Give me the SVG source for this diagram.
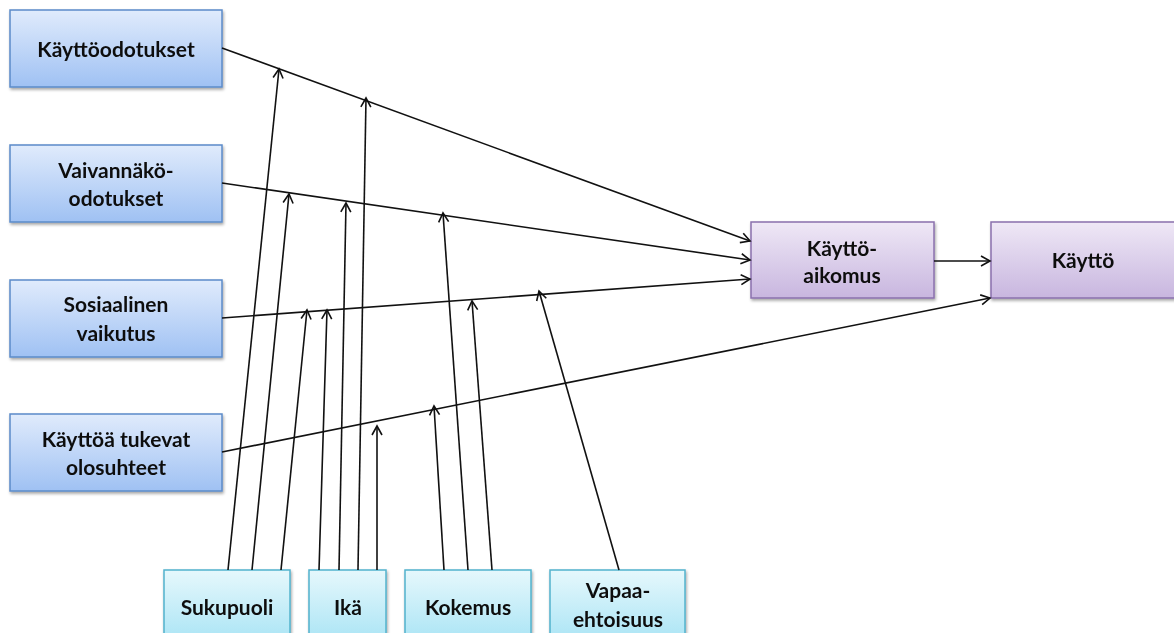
<svg xmlns="http://www.w3.org/2000/svg" width="1174" height="633" viewBox="0 0 1174 633">
  <style>
    .lbl { font-family: Lato, "Liberation Sans", sans-serif; font-weight: bold; font-size: 21px; fill: #111; text-anchor: middle; }
    .blue { fill: url(#gBlue); stroke: #5b8bc9; stroke-width: 1.5; }
    .purple { fill: url(#gPurple); stroke: #8a70ad; stroke-width: 1.5; }
    .cyan { fill: url(#gCyan); stroke: #52b3cd; stroke-width: 1.5; }
    .box { filter: url(#shadow); }
    .conn line { stroke: #111; stroke-width: 1.6; fill: none; marker-end: url(#arrow); }
  </style>
  <defs>
    <linearGradient id="gBlue" x1="0" y1="0" x2="0" y2="1">
      <stop offset="0" stop-color="#e0ebfc"/>
      <stop offset="1" stop-color="#9fc1f3"/>
    </linearGradient>
    <linearGradient id="gPurple" x1="0" y1="0" x2="0" y2="1">
      <stop offset="0" stop-color="#efe8f6"/>
      <stop offset="1" stop-color="#c8b6df"/>
    </linearGradient>
    <linearGradient id="gCyan" x1="0" y1="0" x2="0" y2="1">
      <stop offset="0" stop-color="#e6f8fc"/>
      <stop offset="1" stop-color="#a3e2f4"/>
    </linearGradient>
    <filter id="shadow" x="-10%" y="-10%" width="120%" height="130%">
      <feDropShadow dx="1" dy="2" stdDeviation="1.5" flood-color="#000" flood-opacity="0.35"/>
    </filter>
    <marker id="arrow" markerUnits="userSpaceOnUse" markerWidth="14" markerHeight="14" viewBox="-11 -7 14 14" refX="0" refY="0" orient="auto">
      <path d="M -9 -5 L 0 0 L -9 5" fill="none" stroke="#111" stroke-width="1.6"/>
    </marker>
  </defs>

  <!-- predictor boxes -->
  <g id="kayttoodotukset" class="box">
    <rect class="blue" x="10" y="10" width="212" height="77"/>
    <text class="lbl" x="116" y="57">Käyttöodotukset</text>
  </g>
  <g id="vaivannakoodotukset" class="box">
    <rect class="blue" x="10" y="145" width="212" height="77"/>
    <text class="lbl" x="116" y="178">Vaivannäkö-</text>
    <text class="lbl" x="116" y="206">odotukset</text>
  </g>
  <g id="sosiaalinen" class="box">
    <rect class="blue" x="10" y="280" width="212" height="77"/>
    <text class="lbl" x="116" y="312">Sosiaalinen</text>
    <text class="lbl" x="116" y="341">vaikutus</text>
  </g>
  <g id="olosuhteet" class="box">
    <rect class="blue" x="10" y="414" width="212" height="77"/>
    <text class="lbl" x="116" y="447">Käyttöä tukevat</text>
    <text class="lbl" x="116" y="475">olosuhteet</text>
  </g>

  <!-- outcome boxes -->
  <g id="aikomus" class="box">
    <rect class="purple" x="751" y="222" width="183" height="76"/>
    <text class="lbl" x="842" y="256">Käyttö-</text>
    <text class="lbl" x="842" y="283">aikomus</text>
  </g>
  <g id="kaytto" class="box">
    <rect class="purple" x="991" y="222" width="190" height="76"/>
    <text class="lbl" x="1083" y="268">Käyttö</text>
  </g>

  <!-- moderator boxes -->
  <g id="sukupuoli" class="box">
    <rect class="cyan" x="164" y="570" width="126" height="80"/>
    <text class="lbl" x="227" y="615">Sukupuoli</text>
  </g>
  <g id="ika" class="box">
    <rect class="cyan" x="309" y="570" width="77" height="80"/>
    <text class="lbl" x="348" y="615">Ikä</text>
  </g>
  <g id="kokemus" class="box">
    <rect class="cyan" x="405" y="570" width="126" height="80"/>
    <text class="lbl" x="468" y="615">Kokemus</text>
  </g>
  <g id="vapaaehtoisuus" class="box">
    <rect class="cyan" x="550" y="570" width="135" height="80"/>
    <text class="lbl" x="618" y="598">Vapaa-</text>
    <text class="lbl" x="618" y="627">ehtoisuus</text>
  </g>

  <!-- connectors -->
  <g id="connectors" class="conn">
    <line x1="222" y1="48" x2="750" y2="241"/>
    <line x1="222" y1="183" x2="750" y2="260"/>
    <line x1="222" y1="318" x2="750" y2="279"/>
    <line x1="222" y1="452" x2="990" y2="298"/>
    <line x1="934" y1="261" x2="990" y2="261"/>

    <line x1="228" y1="570" x2="279" y2="69"/>
    <line x1="252" y1="570" x2="289" y2="194"/>
    <line x1="281" y1="570" x2="307" y2="310"/>

    <line x1="319" y1="570" x2="327" y2="310"/>
    <line x1="339" y1="570" x2="346" y2="203"/>
    <line x1="358" y1="570" x2="366" y2="98"/>
    <line x1="377" y1="570" x2="377" y2="426"/>

    <line x1="444" y1="570" x2="434" y2="406"/>
    <line x1="468" y1="570" x2="443" y2="213"/>
    <line x1="492" y1="570" x2="472" y2="301"/>

    <line x1="619" y1="570" x2="539" y2="291"/>
  </g>
</svg>
